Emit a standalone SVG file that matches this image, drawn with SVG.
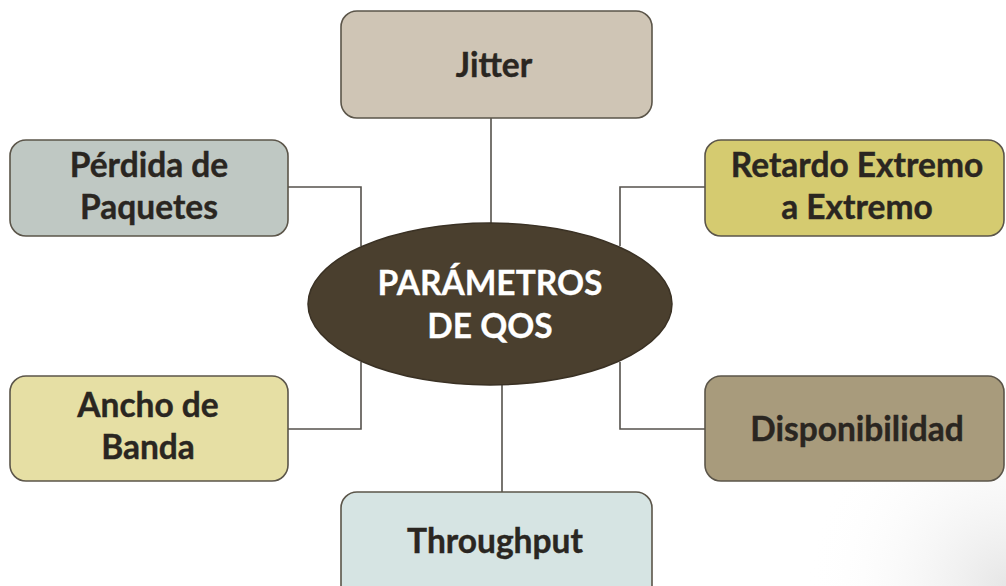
<svg xmlns="http://www.w3.org/2000/svg" width="1006" height="586" viewBox="0 0 1006 586">
  <defs>
    <radialGradient id="cornerShade" cx="1006" cy="586" r="200" gradientUnits="userSpaceOnUse">
      <stop offset="0" stop-color="#e6e6e6"/>
      <stop offset="1" stop-color="#ffffff" stop-opacity="0"/>
    </radialGradient>
    <style>
      .box { stroke: #5b5549; stroke-width: 1.6; }
      .lbl { font-family: "Lato", "Liberation Sans", sans-serif; font-weight: bold; font-size: 33.5px; fill: #2a2621; stroke: #2a2621; stroke-width: 0.4; text-anchor: middle; }
      .hub { font-family: "Lato", "Liberation Sans", sans-serif; font-weight: bold; font-size: 33.5px; fill: #ffffff; stroke: #ffffff; stroke-width: 0.3; text-anchor: middle; }
      .link { fill: none; stroke: #55524c; stroke-width: 1.6; }
    </style>
  </defs>

  <rect width="1006" height="586" fill="#ffffff"/>
  <rect x="806" y="386" width="200" height="200" fill="url(#cornerShade)"/>

  <!-- connectors -->
  <g id="connectors">
    <path class="link" d="M491 118 V224"/>
    <path class="link" d="M288 187 H361 V246"/>
    <path class="link" d="M705 187 H620 V246"/>
    <path class="link" d="M288 429 H361 V362"/>
    <path class="link" d="M705 429 H620 V362"/>
    <path class="link" d="M502 384 V492"/>
  </g>

  <g id="node-jitter">
    <rect class="box" x="341" y="11" width="311" height="107" rx="16" fill="#cfc5b5"/>
    <text class="lbl" x="494" y="77">Jitter</text>
  </g>

  <g id="node-perdida">
    <rect class="box" x="10" y="140" width="278" height="96" rx="16" fill="#bfc8c3"/>
    <text class="lbl" x="149" y="177">Pérdida de</text>
    <text class="lbl" x="149" y="219">Paquetes</text>
  </g>

  <g id="node-retardo">
    <rect class="box" x="705" y="140" width="299" height="96" rx="16" fill="#d5cb70"/>
    <text class="lbl" x="857" y="177">Retardo Extremo</text>
    <text class="lbl" x="857" y="219">a Extremo</text>
  </g>

  <g id="node-ancho">
    <rect class="box" x="10" y="376" width="278" height="105" rx="16" fill="#e6dfa4"/>
    <text class="lbl" x="148" y="417">Ancho de</text>
    <text class="lbl" x="148" y="459">Banda</text>
  </g>

  <g id="node-disponibilidad">
    <rect class="box" x="705" y="376" width="299" height="105" rx="16" fill="#a89b7c"/>
    <text class="lbl" x="857" y="441">Disponibilidad</text>
  </g>

  <g id="node-throughput">
    <rect class="box" x="341" y="492" width="311" height="110" rx="16" fill="#d6e4e3"/>
    <text class="lbl" x="495" y="553">Throughput</text>
  </g>

  <g id="node-qos">
    <ellipse cx="490" cy="304" rx="182" ry="81" fill="#4a3f2e" stroke="#3a3124" stroke-width="1.5"/>
    <text class="hub" x="490" y="295">PARÁMETROS</text>
    <text class="hub" x="490" y="338">DE QOS</text>
  </g>
</svg>
